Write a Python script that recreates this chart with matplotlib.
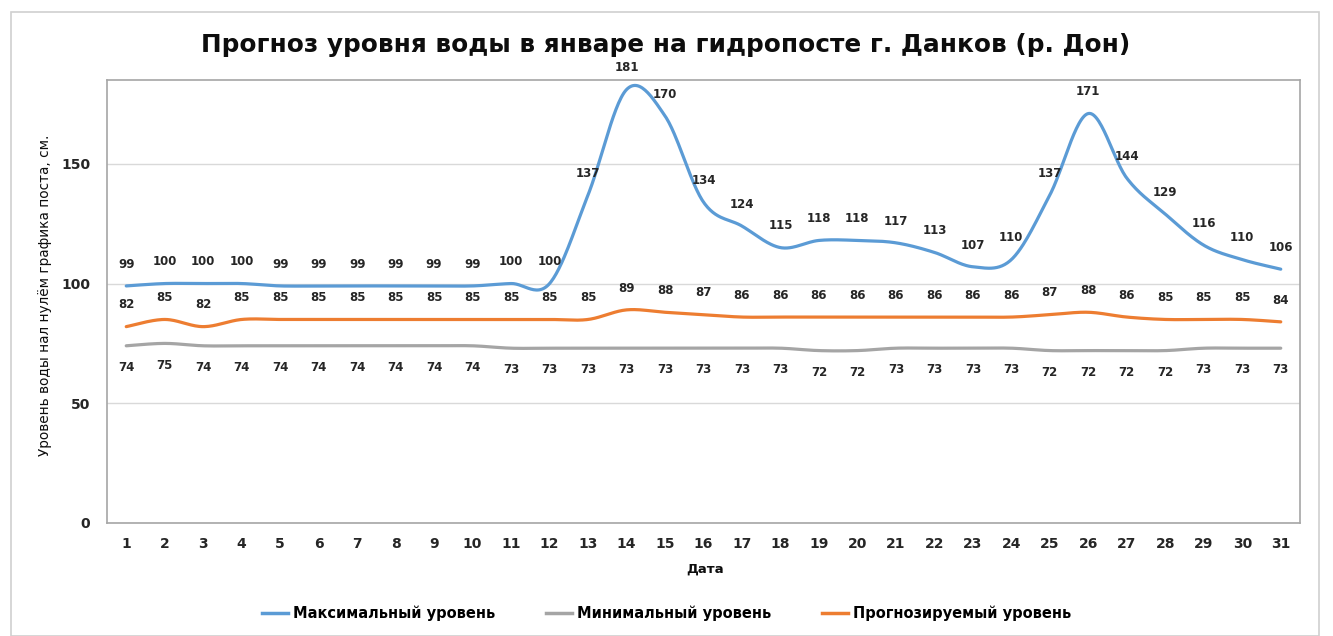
import numpy as np
import matplotlib
matplotlib.use("Agg")
import matplotlib.pyplot as plt
from matplotlib.patches import Rectangle
from matplotlib.lines import Line2D

days = list(range(1, 32))
max_level = [99, 100, 100, 100, 99, 99, 99, 99, 99, 99, 100, 100, 137, 181, 170, 134,
             124, 115, 118, 118, 117, 113, 107, 110, 137, 171, 144, 129, 116, 110, 106]
min_level = [74, 75, 74, 74, 74, 74, 74, 74, 74, 74, 73, 73, 73, 73, 73, 73,
             73, 73, 72, 72, 73, 73, 73, 73, 72, 72, 72, 72, 73, 73, 73]
forecast = [82, 85, 82, 85, 85, 85, 85, 85, 85, 85, 85, 85, 85, 89, 88, 87,
            86, 86, 86, 86, 86, 86, 86, 86, 87, 88, 86, 85, 85, 85, 84]

series_names = ["Максимальный уровень", "Минимальный уровень", "Прогнозируемый уровень"]
colors = ["#5B9BD5", "#A5A5A5", "#ED7D31"]


def smooth(x, y, n=30):
    # Excel-like smoothed line (Catmull-Rom as bezier segments)
    x = np.asarray(x, float)
    y = np.asarray(y, float)
    px = np.concatenate([[x[0]], x, [x[-1]]])
    py = np.concatenate([[y[0]], y, [y[-1]]])
    t = np.linspace(0, 1, n)
    xs, ys = [], []
    for i in range(1, len(px) - 2):
        p0 = np.array([px[i], py[i]])
        p3 = np.array([px[i + 1], py[i + 1]])
        p1 = p0 + (p3 - np.array([px[i - 1], py[i - 1]])) / 6
        p2 = p3 - (np.array([px[i + 2], py[i + 2]]) - p0) / 6
        b = ((1 - t) ** 3)[:, None] * p0 + (3 * (1 - t) ** 2 * t)[:, None] * p1 \
            + (3 * (1 - t) * t ** 2)[:, None] * p2 + (t ** 3)[:, None] * p3
        xs.append(b[:, 0])
        ys.append(b[:, 1])
    return np.concatenate(xs), np.concatenate(ys)


fig = plt.figure(figsize=(13.33, 6.36), dpi=100)
fig.patches.append(Rectangle((11 / 1333, 0), 1308 / 1333, 1 - 12 / 636, transform=fig.transFigure,
                             fill=False, edgecolor="#d0d0d0", lw=1.2))
ax = fig.add_axes([107 / 1333, 1 - 523 / 636, (1300 - 107) / 1333, (523 - 80) / 636])

label_color = "#262626"
for vals, col, off in [(max_level, colors[0], 11), (min_level, colors[1], -11), (forecast, colors[2], 11)]:
    sx, sy = smooth(days, vals)
    ax.plot(sx, sy, color=col, lw=2.3, solid_capstyle="round")
    for d, v in zip(days, vals):
        ax.annotate(str(v), (d, v), xytext=(0, off), textcoords="offset points",
                    ha="center", va="bottom" if off > 0 else "top",
                    fontsize=8.5, fontweight="bold", color=label_color)

ax.set_xlim(0.5, 31.5)
ax.set_ylim(0, 185)
ax.set_xticks(days)
ax.set_yticks([0, 50, 100, 150])
ax.tick_params(length=0, labelsize=10, labelcolor="#262626")
ax.tick_params(axis="x", pad=10)
ax.tick_params(axis="y", pad=12)
for lab in ax.get_xticklabels() + ax.get_yticklabels():
    lab.set_fontweight("bold")
ax.grid(axis="y", color="#d9d9d9", lw=1)
ax.set_axisbelow(True)
for sp in ax.spines.values():
    sp.set_color("#a6a6a6")
    sp.set_linewidth(1.2)

fig.text(0.499, 0.929, "Прогноз уровня воды в январе на гидропосте г. Данков (р. Дон)",
         ha="center", va="center", fontsize=17.8, fontweight="bold", color="#0d0d0d")
fig.text(0.034, 0.536, "Уровень воды нал нулём графика поста, см.", rotation=90,
         ha="center", va="center", fontsize=9.8, color="#0d0d0d")
fig.text(0.529, 0.105, "Дата", ha="center", va="center", fontsize=9.5,
         fontweight="bold", color="#0d0d0d")

handles = [Line2D([], [], color=c, lw=2.5) for c in colors]
fig.legend(handles, series_names, loc="center", bbox_to_anchor=(0.5, 0.036), ncol=3,
           frameon=False, handlelength=1.8, handletextpad=0.3, columnspacing=3.5,
           prop={"family": ["Liberation Sans Narrow", "DejaVu Sans"], "size": 10.5, "weight": "bold"})

fig.savefig("out.png", dpi=100)
